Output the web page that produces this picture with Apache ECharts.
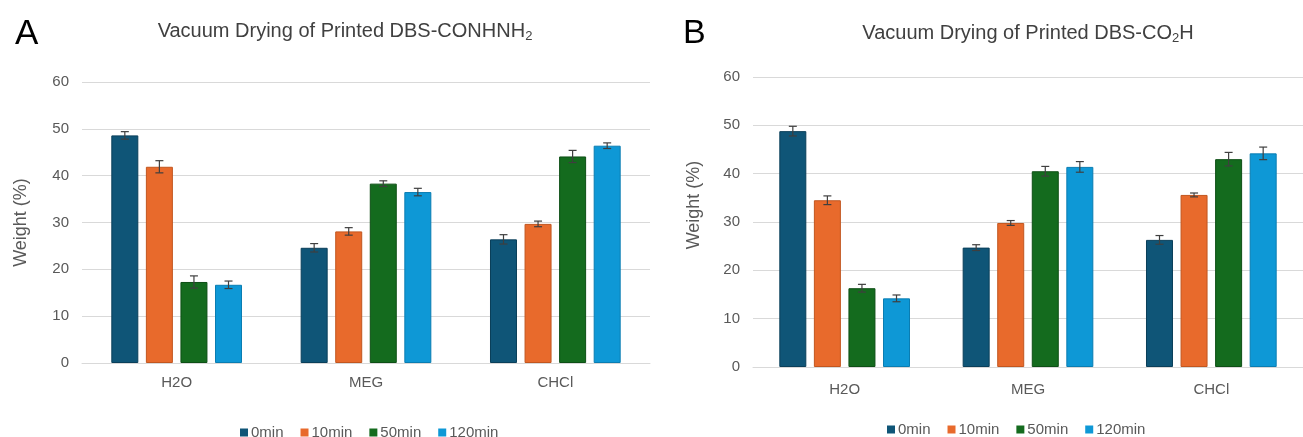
<!DOCTYPE html>
<html><head><meta charset="utf-8">
<script src="https://cdn.jsdelivr.net/npm/echarts@6/dist/echarts.min.js"></script>
<style>html,body{margin:0;padding:0;background:#fff}#c{width:1303px;height:437px}</style>
</head><body><div id="c"></div>
<script>
const categories = ['H2O', 'MEG', 'CHCl'];
const seriesNames = ['0min', '10min', '50min', '120min'];
const yTicks = [0, 10, 20, 30, 40, 50, 60];
// Panel A: DBS-CONHNH2
const A_0min = [48.6, 24.6, 26.4];
const A_10min = [41.9, 28.1, 29.7];
const A_50min = [17.3, 38.3, 44.1];
const A_120min = [16.7, 36.5, 46.4];
const A_err_0min = [0.8, 0.9, 1.0];
const A_err_10min = [1.3, 0.8, 0.6];
const A_err_50min = [1.3, 0.6, 1.3];
const A_err_120min = [0.8, 0.8, 0.6];
// Panel B: DBS-CO2H
const B_0min = [48.8, 24.7, 26.3];
const B_10min = [34.5, 29.8, 35.6];
const B_50min = [16.3, 40.5, 43.0];
const B_120min = [14.2, 41.4, 44.2];
const B_err_0min = [1.0, 0.6, 0.9];
const B_err_10min = [0.9, 0.5, 0.4];
const B_err_50min = [0.8, 1.0, 1.4];
const B_err_120min = [0.7, 1.1, 1.3];

const colors = ['#0f5577', '#e86a2c', '#146b1e', '#0e98d6'];
const borders = ['#0a3f5a', '#c2561f', '#0d4f15', '#0a7db2'];
const BAR_W = 27, GAP = 0.28;

const chart = echarts.init(document.getElementById('c'), null, {renderer: 'canvas'});
const font = 'Liberation Sans, Arial, sans-serif';

function panel(idx, vals, errs) {
  const out = [];
  vals.forEach((v, s) => {
    out.push({
      name: seriesNames[s], type: 'bar', xAxisIndex: idx, yAxisIndex: idx,
      data: v, barWidth: BAR_W, barGap: (GAP * 100) + '%',
      itemStyle: {color: colors[s], borderColor: borders[s], borderWidth: 1},
      emphasis: {disabled: true}
    });
  });
  const edata = [];
  vals.forEach((v, s) => v.forEach((val, c) => edata.push([c, val, errs[s][c], s])));
  out.push({
    type: 'custom', xAxisIndex: idx, yAxisIndex: idx, data: edata, z: 10,
    renderItem: function (params, api) {
      const c = api.value(0), val = api.value(1), e = api.value(2), s = api.value(3);
      const off = (s - 1.5) * BAR_W * (1 + GAP);
      const top = api.coord([c, val + e]);
      const bot = api.coord([c, val - e]);
      const x = top[0] + off;
      const hw = 4;
      const st = {stroke: '#3f3f3f', lineWidth: 1.2};
      return {type: 'group', children: [
        {type: 'line', shape: {x1: x, y1: top[1], x2: x, y2: bot[1]}, style: st},
        {type: 'line', shape: {x1: x - hw, y1: top[1], x2: x + hw, y2: top[1]}, style: st},
        {type: 'line', shape: {x1: x - hw, y1: bot[1], x2: x + hw, y2: bot[1]}, style: st}
      ]};
    }
  });
  return out;
}

function xAx(idx, margin) {
  return {type: 'category', gridIndex: idx, data: categories,
    axisLine: {show: true, lineStyle: {color: '#d9d9d9', width: 1}},
    axisTick: {show: false},
    axisLabel: {color: '#595959', fontSize: 15, fontFamily: font, margin: margin}};
}
function yAx(idx, nameGap, namePad) {
  return {type: 'value', gridIndex: idx, min: yTicks[0], max: yTicks[yTicks.length - 1], interval: 10,
    name: 'Weight (%)', nameLocation: 'middle', nameGap: nameGap, nameRotate: 90,
    nameTextStyle: {color: '#595959', fontSize: 18, fontFamily: font, padding: namePad},
    axisLine: {show: false}, axisTick: {show: false},
    splitLine: {lineStyle: {color: '#d9d9d9', width: 1}},
    axisLabel: {color: '#595959', fontSize: 15, fontFamily: font, margin: 13}};
}

const titleRich = {
  a: {fontSize: 20, fontFamily: font, fontWeight: 'normal', color: '#404040', lineHeight: 24},
  s: {fontSize: 13, fontFamily: font, fontWeight: 'normal', color: '#404040', lineHeight: 24, padding: [10, 0, 0, 0]}
};
const legendBase = {data: seriesNames, itemWidth: 8, itemHeight: 8, itemGap: 17, icon: 'rect',
  itemStyle: {borderWidth: 0},
  textStyle: {color: '#595959', fontSize: 15, fontFamily: font, padding: [0, 0, 0, -2]}};

chart.setOption({
  animation: false,
  color: colors,
  title: [
    {text: '{a|Vacuum Drying of Printed DBS-CONHNH}{s|2}', left: 340, top: 14, textAlign: 'center',
      textStyle: {fontWeight: 'normal', rich: titleRich}},
    {text: '{a|Vacuum Drying of Printed DBS-CO}{s|2}{a|H}', left: 1023, top: 16, textAlign: 'center',
      textStyle: {fontWeight: 'normal', rich: titleRich}},
    {text: 'A', left: 10, top: 12, textStyle: {fontSize: 35, fontWeight: 'normal', fontFamily: font, color: '#000'}},
    {text: 'B', left: 678, top: 12, textStyle: {fontSize: 34, fontWeight: 'normal', fontFamily: font, color: '#000'}}
  ],
  legend: [
    Object.assign({}, legendBase, {left: 235, top: 420}),
    Object.assign({}, legendBase, {left: 882, top: 417})
  ],
  grid: [
    {left: 82, top: 82, width: 568, height: 281},
    {left: 753, top: 77, width: 558, height: 290}
  ],
  xAxis: [xAx(0, 12), xAx(1, 15)],
  yAxis: [yAx(0, 52, [0, 0, 0, 0]), yAx(1, 50, [0, 0, 0, 34])],
  series: [
    ...panel(0, [A_0min, A_10min, A_50min, A_120min], [A_err_0min, A_err_10min, A_err_50min, A_err_120min]),
    ...panel(1, [B_0min, B_10min, B_50min, B_120min], [B_err_0min, B_err_10min, B_err_50min, B_err_120min])
  ]
});
</script></body></html>
